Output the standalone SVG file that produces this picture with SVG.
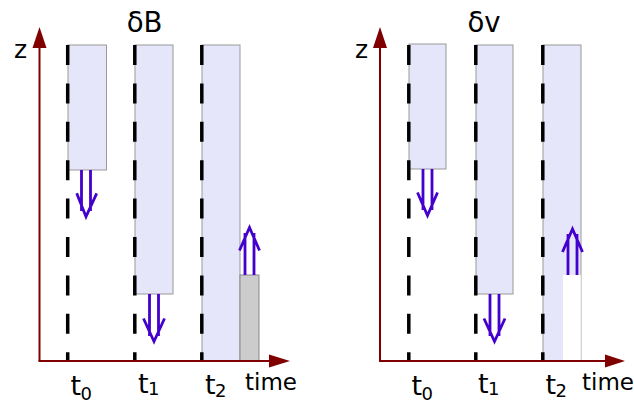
<svg xmlns="http://www.w3.org/2000/svg" width="634" height="407" viewBox="0 0 634 407">
<style>
  .box{fill:#e6e6fa;stroke:#999;stroke-width:1}
  .gray{fill:#ccc;stroke:#888;stroke-width:1}
  .dash{stroke:#000;stroke-width:3.5;stroke-dasharray:20 18.4;fill:none}
  .axis{stroke:#800000;stroke-width:2;fill:none}
  .head{fill:#800000}
  .arr{stroke:#4400cc;stroke-width:2.8;fill:none;stroke-linejoin:miter}
  text{font-family:"DejaVu Sans","Liberation Sans",sans-serif;fill:#000}
  .title{font-size:27.5px;text-anchor:middle}
  .zl{font-size:25px}
  .tl{font-size:27px}
  .sub{font-size:18px}
  .time{font-size:23px}
</style>
<g id="panel-B">
  <g id="B-box0"><rect class="box" x="68" y="45" width="38.5" height="125"/></g>
  <g id="B-box1"><rect class="box" x="135" y="45" width="38" height="249"/></g>
  <g id="B-box2"><rect class="box" x="202" y="45" width="38" height="316"/></g>
  <g id="B-gray"><rect class="gray" x="240" y="275" width="19" height="86"/></g>
  <g id="B-dash">
    <line class="dash" x1="67.7" y1="45" x2="67.7" y2="361"/>
    <line class="dash" x1="134.8" y1="45" x2="134.8" y2="361"/>
    <line class="dash" x1="201.8" y1="45" x2="201.8" y2="361"/>
  </g>
  <g id="B-axes">
    <line class="axis" x1="39.5" y1="361" x2="39.5" y2="46"/>
    <polygon class="head" points="39.5,27 32.5,48 46.5,48"/>
    <line class="axis" x1="38.5" y1="361" x2="271" y2="361"/>
    <polygon class="head" points="290,361 269,354.5 269,367.5"/>
  </g>
  <g id="B-labels">
    <text class="title" x="144.5" y="31.5">δB</text>
    <text class="zl" x="14" y="58">z</text>
    <text class="tl" x="70.5" y="395">t</text><text class="sub" x="80.5" y="399.5">0</text>
    <text class="tl" x="138" y="393">t</text><text class="sub" x="148" y="395">1</text>
    <text class="tl" x="205" y="394">t</text><text class="sub" x="215" y="396.5">2</text>
    <text class="time" x="245" y="390">time</text>
  </g>
</g>
<g id="panel-v">
  <g id="v-box0"><rect class="box" x="409" y="44" width="37" height="125"/></g>
  <g id="v-box1"><rect class="box" x="476" y="45" width="37" height="249"/></g>
  <g id="v-box2"><rect class="box" x="543" y="45" width="38" height="316"/>
    <rect x="563" y="275" width="18" height="86" fill="#fff"/>
    <line x1="581" y1="275" x2="581" y2="361" stroke="#ddd" stroke-width="1"/>
  </g>
  <g id="v-dash">
    <line class="dash" x1="408.8" y1="45" x2="408.8" y2="361"/>
    <line class="dash" x1="475.8" y1="45" x2="475.8" y2="361"/>
    <line class="dash" x1="542.8" y1="45" x2="542.8" y2="361"/>
  </g>
  <g id="v-axes">
    <line class="axis" x1="380" y1="361" x2="380" y2="46"/>
    <polygon class="head" points="380,27 373,48 387,48"/>
    <line class="axis" x1="379" y1="361" x2="607" y2="361"/>
    <polygon class="head" points="625,361 605,354.5 605,367.5"/>
  </g>
  <g id="v-labels">
    <text class="title" x="484" y="31.5">δv</text>
    <text class="zl" x="355" y="58">z</text>
    <text class="tl" x="411.5" y="395">t</text><text class="sub" x="421.5" y="399.5">0</text>
    <text class="tl" x="478" y="393">t</text><text class="sub" x="488" y="395">1</text>
    <text class="tl" x="545.5" y="394">t</text><text class="sub" x="555.5" y="396.5">2</text>
    <text class="time" x="582" y="390">time</text>
  </g>
</g>
<g id="connectors">
  <path class="arr" d="M81.5,170 V211 M90.5,170 V211 M76.7,193.3 L86,216.7 L96.7,193.3"/>
  <path class="arr" d="M149.5,294 V336 M158.5,294 V336 M143.5,318.5 L154,341.5 L164.5,318.5"/>
  <path class="arr" d="M245,275 V233 M254,275 V233 M239.5,250.5 L249.5,227.5 L259.5,250.5"/>
  <path class="arr" d="M423,169 V210 M432,169 V210 M417.5,192.5 L427.5,215.5 L437.5,192.5"/>
  <path class="arr" d="M490,294 V336 M499,294 V336 M484,318.5 L494.5,341.5 L505,318.5"/>
  <path class="arr" d="M568,275 V234 M577,275 V234 M562.5,252 L572.5,229 L582.5,252"/>
</g>
</svg>
